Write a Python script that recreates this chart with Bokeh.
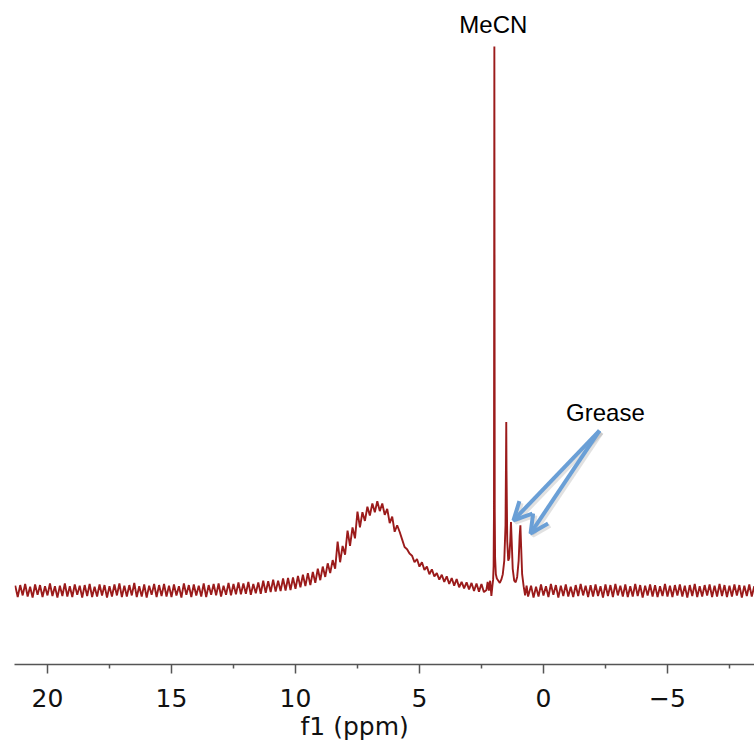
from bokeh.plotting import figure
from bokeh.models import Range1d, FixedTicker, Label, Arrow, OpenHead, ColumnDataSource, Title
from bokeh.embed import file_html
from bokeh.resources import INLINE

# ---------------- data ----------------
# left part of the trace: 21.3 ppm down to 2.4 ppm, one value every 0.1 ppm
left_start = 21.3
left_step = 0.1
left_int = [
    0.9, -1.2, 1.0, -0.9, 1.2, -1.1, 0.7, -1.3, 1.1, -0.8,
    1.0, -1.2, 0.8, -0.9, 1.3, -1.0, 0.8, -1.3, 0.9, -1.0,
    1.3, -1.1, 0.8, -1.2, 1.1, -0.8, 0.9, -1.3, 1.0, -1.0,
    1.2, -1.2, 0.7, -1.1, 1.1, -0.9, 1.0, -1.3, 0.8, -1.1,
    1.1, -0.9, 1.3, -1.2, 0.9, -1.1, 1.0, -0.9, 1.4, -1.2,
    0.8, -1.1, 1.1, -1.3, 0.9, -0.8, 1.2, -1.2, 1.0, -1.0,
    1.2, -1.1, 0.9, -1.2, 1.1, -0.9, 0.8, -1.3, 1.3, -0.8,
    1.0, -1.2, 1.1, -0.9, 0.9, -1.1, 1.3, -1.2, 1.0, -0.8,
    1.2, -0.9, 1.3, -1.1, 0.9, -0.8, 1.4, -0.9, 1.2, -0.7,
    1.5, -0.7, 1.3, -0.6, 1.6, -0.8, 1.2, -0.5, 1.5, -0.6,
    1.8, -0.4, 1.7, -0.3, 2.0, -0.2, 1.8, -0.1, 2.2, 0.0,
    2.3, 0.1, 2.4, 0.3, 2.7, 0.6, 2.9, 0.8, 3.2, 1.0,
    3.4, 1.4, 4.0, 1.9, 4.4, 2.5, 5.0, 3.2, 5.6, 4.0,
    9.0, 5.2, 8.2, 6.6, 11.0, 8.2, 11.6, 9.6, 14.5, 11.6,
    14.4, 12.8, 15.4, 13.8, 16.0, 14.4, 16.4, 14.6, 16.0, 13.9,
    15.0, 12.4, 13.6, 10.8, 12.0, 10.8, 9.4, 8.0, 7.6, 6.8,
    6.4, 5.2, 5.8, 4.4, 5.2, 3.8, 4.4, 3.0, 3.9, 2.6,
    3.2, 2.0, 2.9, 1.6, 2.6, 1.2, 2.3, 0.9, 2.1, 0.6,
    1.6, 0.4, 1.5, 0.2, 1.4, -0.1, 1.3, -0.2, 1.2, -0.3,
]

# sharp signals: MeCN and grease (2.3 ppm to 0.6 ppm)
peak_ppm = [2.30, 2.25, 2.20, 2.15, 2.10, 2.06, 2.03, 2.01, 1.995, 1.98, 1.965,
            1.95, 1.92, 1.88, 1.82, 1.76, 1.70, 1.64, 1.58, 1.53, 1.51, 1.50,
            1.49, 1.46, 1.42, 1.38, 1.34, 1.31, 1.28, 1.24, 1.18, 1.12, 1.06,
            1.00, 0.96, 0.93, 0.90, 0.86, 0.80, 0.74, 0.68, 0.62]
peak_int = [0.1, 1.6, 0.0, 1.8, -1.0, 0.8, 2.0, 4.5, 15.0, 100.0, 15.0,
            6.0, 3.0, 2.2, 1.8, 1.4, 2.0, 3.0, 5.5, 12.0, 24.0, 31.0,
            22.0, 9.0, 5.5, 6.0, 9.0, 12.6, 9.0, 4.0, 1.8, 1.5, 2.5,
            5.5, 10.0, 12.0, 8.0, 3.0, 0.8, -0.9, 0.9, -1.1]

# right part of the trace: 0.5 ppm down to -8.5 ppm, one value every 0.1 ppm
right_start = 0.5
right_step = 0.1
right_int = [
    0.9, -1.3, 0.7, -1.1, 1.1, -0.9, 0.8, -1.2, 1.2, -0.8,
    1.0, -1.3, 0.9, -1.0, 1.1, -1.1, 0.7, -1.2, 1.0, -1.0,
    1.2, -0.9, 0.9, -1.2, 1.0, -1.1, 1.1, -1.0, 0.8, -1.3,
    1.1, -1.0, 1.0, -1.2, 1.2, -0.9, 0.9, -1.1, 1.1, -1.2,
    0.8, -1.1, 1.2, -1.0, 1.0, -1.3, 0.9, -0.9, 1.1, -1.1,
    1.0, -1.2, 0.8, -1.0, 1.2, -1.1, 0.9, -1.2, 1.0, -0.9,
    1.1, -1.1, 0.9, -1.3, 1.0, -1.0, 1.2, -1.2, 0.8, -1.1,
    1.0, -0.9, 1.1, -1.2, 0.9, -1.1, 1.2, -1.0, 1.0, -1.2,
    0.9, -1.1, 1.1, -0.9, 1.0, -1.3, 0.9, -1.0, 1.1, -1.1, 0.8,
]

major_ticks = [20, 15, 10, 5, 0, -5]
minor_ticks = [17.5, 12.5, 7.5, 2.5, -2.5, -7.5]
tick_labels = {20: "20", 15: "15", 10: "10", 5: "5", 0: "0", -5: "\u22125"}
axis_title = "f1 (ppm)"

# ---------------- assemble ----------------
left_ppm = [round(left_start - left_step * i, 3) for i in range(len(left_int))]
right_ppm = [round(right_start - right_step * i, 3) for i in range(len(right_int))]
ppm = left_ppm + peak_ppm + right_ppm
intensity = left_int + peak_int + right_int
src = ColumnDataSource(dict(ppm=ppm, intensity=intensity))

p = figure(width=754, height=742, output_backend="svg", toolbar_location=None,
           x_range=Range1d(21.33, -8.51), y_range=Range1d(-13.6, 107.0),
           y_axis_location=None, min_border_left=14, min_border_right=0,
           min_border_top=8, min_border_bottom=78)
p.outline_line_color = None
p.xgrid.visible = False
p.ygrid.visible = False
p.background_fill_color = "white"
p.border_fill_color = "white"

p.line("ppm", "intensity", source=src, line_color="#9b1b1b", line_width=1.9)

ax = p.xaxis[0]
ax.ticker = FixedTicker(ticks=major_ticks, minor_ticks=minor_ticks)
ax.major_label_overrides = tick_labels
ax.axis_line_color = "#555555"
ax.axis_line_width = 1.5
ax.major_tick_line_color = "#555555"
ax.major_tick_line_width = 1.5
ax.minor_tick_line_color = "#555555"
ax.minor_tick_line_width = 1.5
ax.major_tick_in = 0
ax.major_tick_out = 9
ax.minor_tick_in = 0
ax.minor_tick_out = 4
ax.major_label_text_font = "DejaVu Sans"
ax.major_label_text_font_size = "25px"
ax.major_label_text_color = "#111111"
ax.major_label_standoff = 15

# axis title (placed below the axis, left of the frame centre as in the reference)
p.add_layout(Title(text=axis_title, align="left", offset=286, standoff=0,
                   text_font="DejaVu Sans", text_font_size="25px",
                   text_font_style="normal", text_color="#111111"), "below")

# annotations
p.add_layout(Label(x=2.02, y=104.1, text="MeCN", text_font="Liberation Sans",
                   text_font_size="24px", text_color="black",
                   text_align="center", text_baseline="alphabetic"))
p.add_layout(Label(x=-2.5, y=32.7, text="Grease", text_font="Liberation Sans",
                   text_font_size="24px", text_color="black",
                   text_align="center", text_baseline="alphabetic"))

arrow_col = "#6a9fd6"
shadow_col = "#888888"
arrows = [(-2.26, 29.4, 1.21, 12.9), (-2.26, 29.4, 0.52, 10.5)]
for (xs, ys, xe, ye) in arrows:
    p.add_layout(Arrow(x_start=xs - 0.08, y_start=ys - 0.37, x_end=xe - 0.08, y_end=ye - 0.37,
                       line_color=shadow_col, line_alpha=0.25, line_width=4.5,
                       end=OpenHead(size=18, line_color=shadow_col, line_alpha=0.25, line_width=4.5)))
for (xs, ys, xe, ye) in arrows:
    p.add_layout(Arrow(x_start=xs, y_start=ys, x_end=xe, y_end=ye,
                       line_color=arrow_col, line_width=4,
                       end=OpenHead(size=18, line_color=arrow_col, line_width=4)))

open("out.html", "w").write(file_html(p, INLINE))
